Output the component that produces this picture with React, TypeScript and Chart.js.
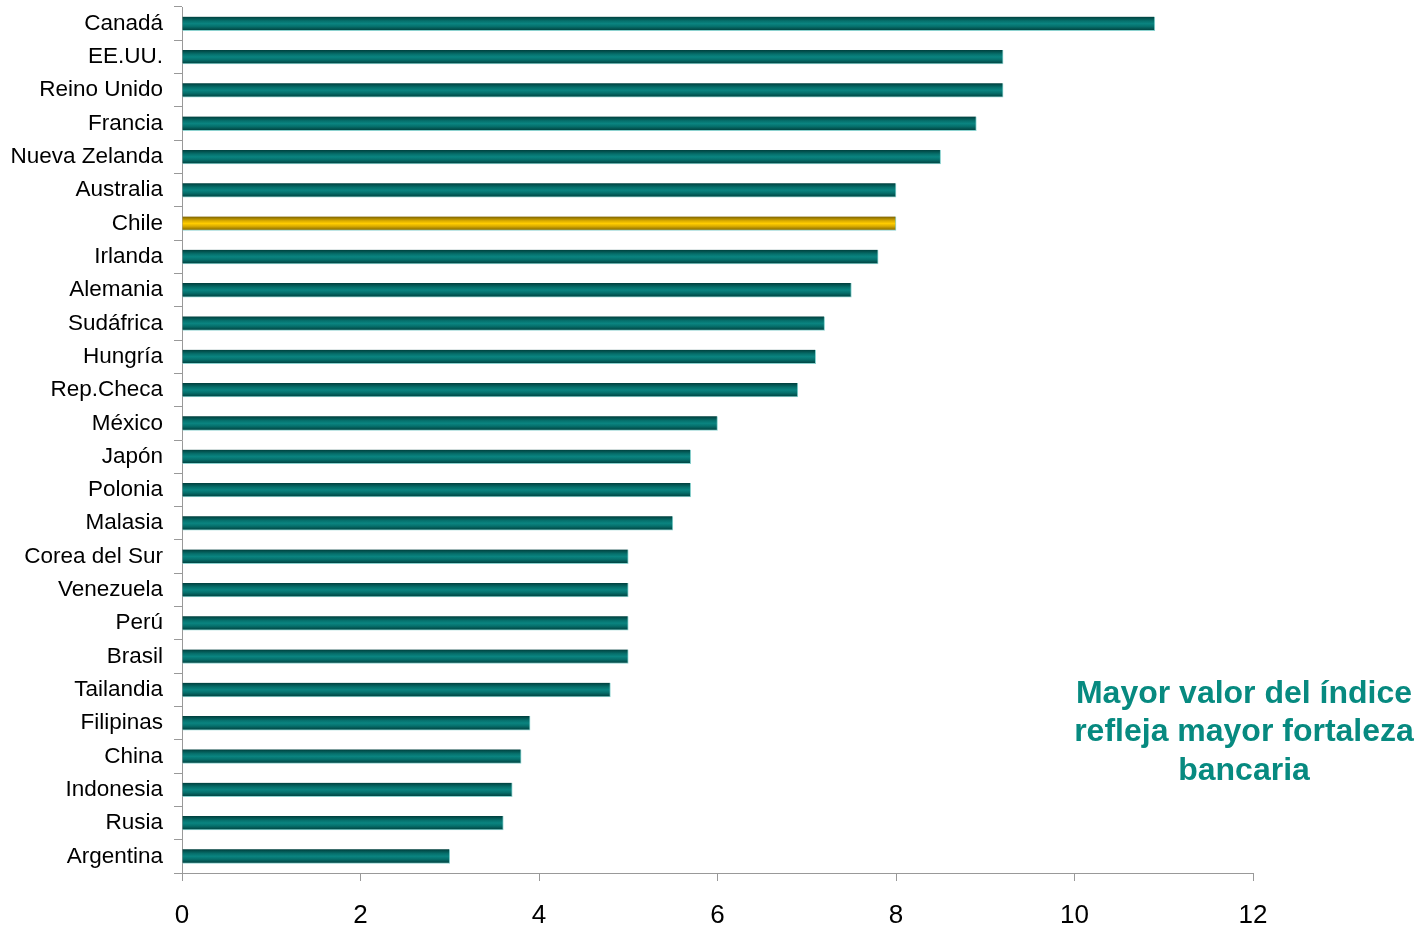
import React, { useEffect, useRef } from "react";
import { Chart, registerables } from "chart.js";

Chart.register(...registerables);

const countries = [
  "Canadá", "EE.UU.", "Reino Unido", "Francia", "Nueva Zelanda", "Australia", "Chile",
  "Irlanda", "Alemania", "Sudáfrica", "Hungría", "Rep.Checa", "México", "Japón", "Polonia",
  "Malasia", "Corea del Sur", "Venezuela", "Perú", "Brasil", "Tailandia", "Filipinas",
  "China", "Indonesia", "Rusia", "Argentina",
];
const values = [
  10.9, 9.2, 9.2, 8.9, 8.5, 8.0, 8.0, 7.8, 7.5, 7.2, 7.1, 6.9, 6.0, 5.7, 5.7, 5.5,
  5.0, 5.0, 5.0, 5.0, 4.8, 3.9, 3.8, 3.7, 3.6, 3.0,
];
const highlight = "Chile";
const xTicks = [0, 2, 4, 6, 8, 10, 12];
const noteLines = ["Mayor valor del índice", "refleja mayor fortaleza", "bancaria"];

const FONT = "'Liberation Sans', Arial, sans-serif";

export default function App() {
  const ref = useRef<HTMLCanvasElement>(null);
  useEffect(() => {
    if (!ref.current) return;
    const notePlugin = {
      id: "note",
      afterDraw(chart: any) {
        const c = chart.ctx;
        c.save();
        c.font = `bold 32px ${FONT}`;
        c.fillStyle = "#078a80";
        c.textAlign = "center";
        c.textBaseline = "middle";
        noteLines.forEach((t, i) => c.fillText(t, 1244, 694 + i * 38.5));
        c.restore();
      },
    };
    const chart = new Chart(ref.current, {
      type: "bar",
      data: {
        labels: countries,
        datasets: [
          {
            data: values,
            backgroundColor: (ctx: any) => {
              const ch = ctx.chart;
              const isHi = countries[ctx.dataIndex] === highlight;
              const solid = isHi ? "#f0c000" : "#0a7c78";
              const y = ch.scales?.y;
              if (!y || ctx.dataIndex === undefined) return solid;
              const yc = y.getPixelForValue(ctx.dataIndex);
              if (!isFinite(yc)) return solid;
              const g = ch.ctx.createLinearGradient(0, yc - 7, 0, yc + 7);
              if (isHi) {
                g.addColorStop(0, "#7a6000");
                g.addColorStop(0.3, "#d8aa00");
                g.addColorStop(0.5, "#ffcc00");
                g.addColorStop(0.7, "#d8aa00");
                g.addColorStop(1, "#7a6000");
              } else {
                g.addColorStop(0, "#003e3c");
                g.addColorStop(0.3, "#06706c");
                g.addColorStop(0.5, "#0a8480");
                g.addColorStop(0.7, "#06706c");
                g.addColorStop(1, "#003e3c");
              }
              return g;
            },
            borderColor: "#8cd2cf",
            borderWidth: { top: 0, right: 1, bottom: 1, left: 0 },
            borderSkipped: false,
            barThickness: 14,
          },
        ],
      },
      options: {
        indexAxis: "y",
        animation: false,
        responsive: false,
        maintainAspectRatio: false,
        layout: { padding: { top: 7, right: 165, bottom: 0, left: 0 } },
        plugins: { legend: { display: false }, tooltip: { enabled: false } },
        scales: {
          x: {
            min: 0,
            max: 12,
            afterBuildTicks: (scale: any) => {
              scale.ticks = xTicks.map((v) => ({ value: v }));
            },
            afterFit: (scale: any) => {
              scale.height = 55;
              scale.paddingLeft = 0;
              scale.paddingRight = 0;
            },
            border: { display: true, color: "#999999", width: 1 },
            grid: { display: true, drawOnChartArea: false, drawTicks: true, tickLength: 8, color: "#999999" },
            ticks: { color: "#000000", font: { family: FONT, size: 26 }, padding: 19 },
          },
          y: {
            afterFit: (scale: any) => {
              scale.width = 182;
              scale.paddingTop = 0;
              scale.paddingBottom = 0;
            },
            border: { display: true, color: "#999999", width: 1 },
            grid: { display: true, offset: true, drawOnChartArea: false, drawTicks: true, tickLength: 8, color: "#999999" },
            ticks: { color: "#000000", font: { family: FONT, size: 22.5 }, padding: 11, autoSkip: false },
          },
        },
      },
      plugins: [notePlugin],
    } as any);
    return () => chart.destroy();
  }, []);
  return (
    <div style={{ position: "fixed", left: 0, top: 0, width: 1418, height: 928, background: "#fff" }}>
      <canvas ref={ref} width={1418} height={928} style={{ width: 1418, height: 928 }} />
    </div>
  );
}
